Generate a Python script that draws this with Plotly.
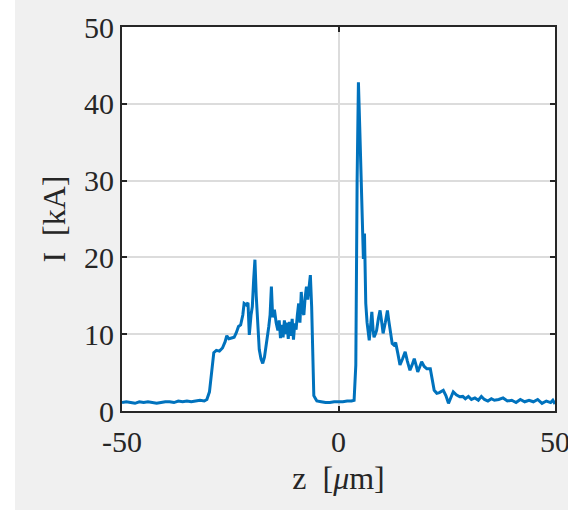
import plotly.graph_objects as go

# Beam current profile I(z)
z_um = [
    -50, -49, -48, -47, -46, -45, -44, -43, -42, -41, -40, -39, -38, -37, -36,
    -35, -34, -33, -32, -31, -30.4, -29.8, -29.3, -28.8, -28.2, -27.5, -26.8,
    -26.2, -25.8, -25.3, -24.7, -24.1, -23.6, -23.1, -22.6, -22.1, -21.8, -21.3,
    -20.9, -20.6, -20.2, -19.9, -19.6, -19.3, -19.0, -18.7, -18.3, -17.9, -17.5,
    -17.1, -16.6, -16.1, -15.8, -15.5, -15.2, -14.8, -14.4, -14.0, -13.7, -13.4,
    -13.1, -12.8, -12.5, -12.2, -11.9, -11.6, -11.3, -11.0, -10.7, -10.4, -10.1,
    -9.8, -9.5, -9.2, -8.9, -8.6, -8.3, -8.0, -7.7, -7.4, -7.1, -6.8, -6.5, -6.2,
    -5.9, -5.7, -5.3, -5.0, -4, -3, -2, -1, 0, 1, 2, 3, 3.6, 4.0, 4.3, 4.6, 4.9,
    5.1, 5.4, 5.6, 5.75, 6.0, 6.3, 6.6, 7.1, 7.4, 7.7, 8.0, 8.2, 8.5, 8.8, 9.2,
    9.6, 10.0, 10.3, 10.8, 11.3, 11.6, 11.9, 12.4, 12.8, 13.2, 13.7, 14.2, 14.8,
    15.4, 15.9, 16.5, 17.0, 17.5, 17.9, 18.3, 18.8, 19.2, 19.8, 20.4, 21.2, 21.6,
    22.1, 22.7, 23.3, 24.2, 24.8, 25.4, 26.0, 26.5, 27.2, 28.0, 28.7, 29.3, 30,
    30.7, 31.5, 32.3, 33, 33.7, 34.5, 35.3, 36, 37, 38, 39, 40, 41, 42, 43, 44,
    45, 46, 47, 48, 49, 49.5, 50,
]
current_kA = [
    1.1, 1.2, 1.1, 1.0, 1.2, 1.1, 1.2, 1.1, 1.0, 1.1, 1.2, 1.2, 1.1, 1.3, 1.2,
    1.3, 1.2, 1.3, 1.4, 1.3, 1.5, 2.5, 5.0, 7.6, 7.9, 7.8, 8.2,
    9.0, 9.8, 9.4, 9.5, 9.6, 10.2, 11.0, 11.2, 12.5, 14.0, 13.8,
    14.1, 9.9, 12.5, 13.6, 17.0, 19.7, 15.0, 12.0, 8.0, 6.8, 6.2,
    7.0, 8.8, 11.0, 12.5, 16.2, 12.2, 13.2, 11.5, 10.5, 11.8, 9.5,
    11.2, 9.6, 11.8, 10.0, 11.5, 9.4, 11.6, 9.8, 12.0, 9.3, 11.4,
    10.6, 12.5, 14.0, 11.5, 15.5, 13.0, 12.5, 14.8, 16.2, 14.5, 16.5, 17.7, 13.6,
    5.0, 2.0, 1.6, 1.3, 1.2, 1.1, 1.1, 1.2, 1.2, 1.2, 1.3, 1.3, 1.4, 6.0, 30.0, 42.8, 37.0,
    32.6, 27.0, 23.5, 19.8, 23.1, 14.0, 11.5, 9.2, 11.0, 12.9, 10.5, 9.6, 10.0, 10.5, 12.0,
    13.1, 11.5, 10.1, 11.5, 13.1, 11.8, 10.5, 8.8, 8.6, 8.9, 7.5, 6.0, 6.8,
    7.7, 6.5, 5.3, 6.0, 6.8, 6.0, 5.1, 5.8, 6.4, 5.8, 5.5, 5.5, 4.0,
    2.7, 2.3, 2.4, 2.7, 2.0, 1.0, 1.8, 2.5, 2.1, 1.85, 1.9, 1.6, 1.9,
    1.5, 1.7, 1.4, 1.9, 1.5, 1.3, 1.6, 1.4, 1.5, 1.7, 1.3, 1.4, 1.1, 1.5, 1.2, 1.4,
    1.2, 1.5, 1.0, 1.3, 1.1, 1.4, 0.9,
]

x_tick_vals = [-50, 0, 50]
x_tick_text = ["-50", "0", "50"]
y_tick_vals = [0, 10, 20, 30, 40, 50]
y_tick_text = ["0", "10", "20", "30", "40", "50"]

W, H = 568, 510
ML, MR, MT, MB = 122, 13, 27, 99
PW = W - ML - MR

FONT = "Liberation Serif"
AX = "#262626"
GRID = "#dcdcdc"

fig = go.Figure()
fig.add_trace(go.Scatter(
    x=z_um, y=current_kA, mode="lines",
    line=dict(color="#0072BD", width=3),
    hoverinfo="skip", showlegend=False,
))

axis_common = dict(
    showline=True, linecolor=AX, linewidth=2,
    mirror="ticks", ticks="inside", ticklen=5, tickwidth=1.5, tickcolor=AX,
    showgrid=True, gridcolor=GRID, gridwidth=1.5,
    zeroline=False,
    tickfont=dict(family=FONT, size=30, color=AX),
    ticklabeloverflow="allow",
)

fig.update_xaxes(
    range=[-50, 50], tickmode="array", tickvals=x_tick_vals, ticktext=x_tick_text,
    ticklabelstandoff=3,
    title=dict(text="z\u00a0 [<i>μ</i>m]", font=dict(family=FONT, size=32, color=AX), standoff=10),
    **axis_common,
)
fig.update_yaxes(
    range=[0, 50], tickmode="array", tickvals=y_tick_vals, ticktext=y_tick_text,
    ticklabelstandoff=0,
    title=dict(text="I\u00a0 [kA]", font=dict(family=FONT, size=32, color=AX), standoff=9),
    **axis_common,
)

# white strip on the far left edge of the canvas
fig.add_shape(
    type="rect", xref="paper", yref="paper",
    x0=-(ML + 5) / PW, x1=-(ML - 15) / PW, y0=-0.5, y1=1.2,
    fillcolor="white", line=dict(width=0), layer="below",
)

fig.update_layout(
    width=W, height=H,
    margin=dict(l=ML, r=MR, t=MT, b=MB, autoexpand=False),
    paper_bgcolor="#f0f0f0", plot_bgcolor="white",
    font=dict(family=FONT, color=AX),
)

fig.write_html("out.html")
